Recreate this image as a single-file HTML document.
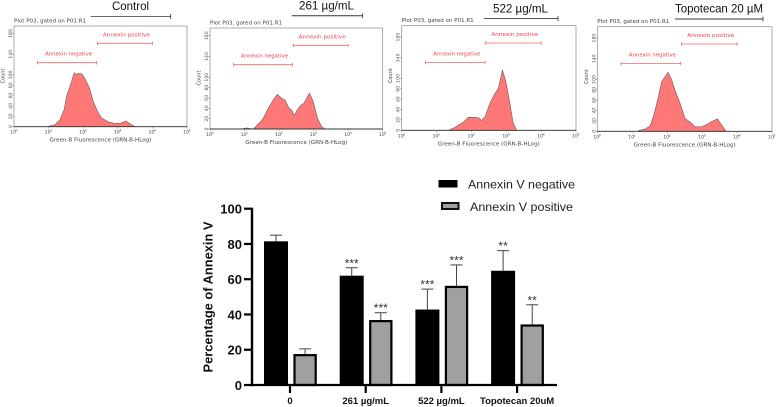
<!DOCTYPE html>
<html>
<head>
<meta charset="utf-8">
<style>
html,body{margin:0;padding:0;background:#fff;}
svg{display:block;font-family:"Liberation Sans",sans-serif;}
</style>
</head>
<body>
<svg id="figure" xmlns="http://www.w3.org/2000/svg" width="778" height="407" viewBox="0 0 778 407"></svg>
<script>
// Flow cytometry histograms: log10 fluorescence vs count
const histDecades1 = [0.99,1.19,1.33,1.45,1.52,1.62,1.74,1.81,1.86,1.96,2.05,2.18,2.29,2.41,2.53,2.73,2.92,3.06,3.24,3.33,3.5];
const histCounts1  = [0.6,4,13.5,33,59,78,104,100,103,102,93,75,49,30,17,9,6.4,6.4,11,6.4,0];
const histDecades2 = [0.9,1.06,1.2,1.26,1.45,1.54,1.69,1.83,1.95,2.08,2.17,2.29,2.36,2.44,2.53,2.63,2.72,2.88,2.99,3.11,3.23,3.33];
const histCounts2  = [0,2,0.5,0.6,13,20.6,40,56,67,59,56,40,37,26,37,46,50,69.5,53,21,4.5,0];
const histDecades3 = [1.37,1.53,1.67,1.79,1.91,2.06,2.2,2.29,2.39,2.53,2.65,2.77,2.89,2.99,3.11,3.2,3.3];
const histCounts3  = [0.6,5.8,11.6,16.7,25,25,24.5,19,26,52,68,81,116,94,49,13.5,0];
const histDecades4 = [1.17,1.37,1.51,1.62,1.75,1.84,1.94,2.03,2.13,2.22,2.37,2.51,2.7,2.8,2.99,3.15,3.27,3.44,3.56,3.68];
const histCounts4  = [1.3,4.5,10,31.5,67,96,105.5,114,99,80,54,25,15.4,8.4,9,13.5,18.7,24,12,0.6];
const histTitles = ["Control","261 µg/mL","522 µg/mL","Topotecan 20 µM"];
const histYTicks = [0,20,40,60,80,100,140,180];
const histXTicks = [0,1,2,3,4,5];
const negGate = [0.68,2.39];
const posGate = [2.41,4.0];

// Bar chart
const categories = ["0","261 µg/mL","522 µg/mL","Topotecan 20uM"];
const negativeValues = [81.5,62,42.8,64.8];
const negativeErrors = [3.5,4.5,11.6,11.4];
const positiveValues = [17.5,36.8,56.2,34.3];
const positiveErrors = [3,4.2,11.9,11.2];
const negativeStars = ["","***","***","**"];
const positiveStars = ["","***","***","**"];
const barYTicks = [0,20,40,60,80,100];

const svg = document.getElementById('figure');
const NS = 'http://www.w3.org/2000/svg';
function mk(tag, attrs, parent, text){
  const el = document.createElementNS(NS, tag);
  for (const k in attrs) el.setAttribute(k, attrs[k]);
  if (text !== undefined) el.textContent = text;
  (parent || svg).appendChild(el);
  return el;
}

function drawHistogram(idx, decades, counts, box, titleBox){
  const g = mk('g', {});
  
  
  const sx = d => box.x + (box.w / 5) * d;
  const sy = c => box.base - 0.518 * c;
  const FONT = '"DejaVu Sans",sans-serif';

  const frame = mk('rect', {x:box.x, y:box.top, width:box.w, height:box.base-box.top, fill:'#fff', stroke:'#8a8a8a', 'stroke-width':0.7}, g);
  
  

  const plotTitle = mk('text', {x:box.x, y:box.top-3.5, 'font-size':4.8, 'font-family':FONT, fill:'#444', textLength:72, lengthAdjust:'spacingAndGlyphs'}, g, 'Plot P03, gated on P01.R1');
  
  

  let pts = sx(decades[0]) + ',' + sy(0) + ' ';
  decades.forEach((d, i) => { pts += sx(d) + ',' + sy(counts[i]) + ' '; });
  pts += sx(decades[decades.length-1]) + ',' + sy(0);
  const hist = mk('polygon', {points:pts, fill:'#ff7878', stroke:'#6e5a5a', 'stroke-width':0.6}, g);
  
  

  const base = mk('line', {x1:box.x, x2:box.x+box.w, y1:box.base, y2:box.base, stroke:'#333', 'stroke-width':0.9}, g);
  
  

  histYTicks.forEach(t => {
    const tick = mk('line', {x1:box.x-2, x2:box.x, y1:sy(t), y2:sy(t), stroke:'#777', 'stroke-width':0.5}, g);
    
    
    const lx = box.x - 2;
    const lab = mk('text', {x:lx, y:sy(t), 'font-size':4.6, 'font-family':FONT, fill:'#555', 'text-anchor':'middle', transform:'rotate(-90 '+lx+' '+sy(t)+')'}, g, String(t));
    
    
  });

  histXTicks.forEach(t => {
    const tick = mk('line', {x1:sx(t), x2:sx(t), y1:box.base, y2:box.base+2, stroke:'#777', 'stroke-width':0.5}, g);
    
    
    const lab = mk('text', {x:sx(t)-1, y:box.base+7, 'font-size':4.6, 'font-family':FONT, fill:'#444', 'text-anchor':'middle'}, g, '10');
    
    
    const sup = mk('text', {x:sx(t)+2.5, y:box.base+5, 'font-size':3.2, 'font-family':FONT, fill:'#444', 'text-anchor':'middle'}, g, String(t));
    
    
  });

  const xt = mk('text', {x:box.x+box.w/2, y:box.base+15, 'font-size':4.8, 'font-family':FONT, fill:'#444', 'text-anchor':'middle', textLength:102, lengthAdjust:'spacingAndGlyphs'}, g, 'Green-B Fluorescence (GRN-B-HLog)');
  
  
  const ylx = box.x - 9.5, yly = box.top + 50;
  const yt = mk('text', {x:ylx, y:yly, 'font-size':5, 'font-family':FONT, fill:'#444', 'text-anchor':'middle', transform:'rotate(-90 '+ylx+' '+yly+')'}, g, 'Count');
  
  

  const gates = [
    {range:negGate, y:box.top+36.7, label:'Annexin negative', name:'annexin-negative-gate'},
    {range:posGate, y:box.top+17.3, label:'Annexin positive', name:'annexin-positive-gate'}
  ];
  gates.forEach(o => {
    const a = sx(o.range[0]), b = sx(o.range[1]);
    const gg = mk('g', {stroke:'#f06a6a', 'stroke-width':0.8}, g);
    
    
    mk('line', {x1:a, x2:b, y1:o.y, y2:o.y}, gg);
    mk('line', {x1:a, x2:a, y1:o.y-1.8, y2:o.y+1.8}, gg);
    mk('line', {x1:b, x2:b, y1:o.y-1.8, y2:o.y+1.8}, gg);
    const lab = mk('text', {x:(a+b)/2+1.5, y:o.y-7, 'font-size':4.8, 'font-family':FONT, fill:'#f0404f', stroke:'none', 'text-anchor':'middle', textLength:47, lengthAdjust:'spacingAndGlyphs'}, g, o.label);
    
    
  });

  const tt = mk('text', {x:titleBox.cx, y:titleBox.ty, 'font-size':titleBox.fs, fill:'#111', 'text-anchor':'middle', textLength:titleBox.tw, lengthAdjust:'spacingAndGlyphs'}, g, histTitles[idx]);
  
  
  const rule = mk('line', {x1:titleBox.x1, x2:titleBox.x2, y1:titleBox.y, y2:titleBox.y, stroke:titleBox.color, 'stroke-width':1}, g);
  
  
  const cap = mk('line', {x1:titleBox.x2, x2:titleBox.x2, y1:titleBox.y-2.5, y2:titleBox.y+2.5, stroke:'#333', 'stroke-width':0.8}, g);
  
  
}

drawHistogram(0, histDecades1, histCounts1, {x:14,y:0,w:173,top:26,base:126.7}, {cx:130.5,ty:10,fs:12,tw:37,x1:90.7,x2:170.7,y:16.5,color:'#666'});
drawHistogram(1, histDecades2, histCounts2, {x:210,y:0,w:172.7,top:28,base:129}, {cx:326.5,ty:9.5,fs:12,tw:55,x1:291.7,x2:362.7,y:15.7,color:'#333'});
drawHistogram(2, histDecades3, histCounts3, {x:401.7,y:0,w:174.3,top:25.7,base:130.3}, {cx:520.5,ty:12.5,fs:12,tw:55,x1:484,x2:558,y:18.5,color:'#555'});
drawHistogram(3, histDecades4, histCounts4, {x:597.3,y:0,w:174.7,top:26.7,base:131.3}, {cx:719,ty:12.5,fs:12,tw:88,x1:675,x2:763,y:19,color:'#333'});

// ---- bar chart ----
const barG = mk('g', {});


const Y0 = 385, PXPER = 1.763, AX = 252;
const yScale = v => Y0 - v * PXPER;
const xScale = i => 290 + i * 75.7;

function drawBar(i, value, err, star, isNeg){
  const left = xScale(i) + (isNeg ? -26 : 3.5);
  const w = isNeg ? 24 : 23.2;
  const cx = left + w / 2;
  const eb = mk('g', {stroke:'#444', 'stroke-width':1}, barG);
  
  
  mk('line', {x1:cx, x2:cx, y1:yScale(value), y2:yScale(value+err)}, eb);
  mk('line', {x1:cx-6, x2:cx+6, y1:yScale(value+err), y2:yScale(value+err)}, eb);
  const bar = isNeg
    ? mk('rect', {x:left, y:yScale(value), width:w, height:Y0-yScale(value), fill:'#000'}, barG)
    : mk('rect', {x:left+1, y:yScale(value)+1, width:w-2, height:Y0-yScale(value)-1, fill:'#a0a0a0', stroke:'#000', 'stroke-width':2.2}, barG);
  
  
  if (star) {
    const st = mk('text', {x:cx, y:yScale(value+err)-0.5, 'font-size':12, fill:'#333', 'text-anchor':'middle'}, barG, star);
    
    
  }
}
categories.forEach((c, i) => {
  drawBar(i, negativeValues[i], negativeErrors[i], negativeStars[i], true);
  drawBar(i, positiveValues[i], positiveErrors[i], positiveStars[i], false);
  const tick = mk('line', {x1:xScale(i), x2:xScale(i), y1:Y0, y2:Y0+8, stroke:'#000', 'stroke-width':2.2}, barG);
  
  
  const lab = mk('text', {x:xScale(i), y:404, 'font-size':9.5, 'font-weight':'bold', fill:'#111', 'text-anchor':'middle'}, barG, c);
  
  
});
const yAxis = mk('line', {x1:AX, x2:AX, y1:yScale(100)-1, y2:Y0+1.2, stroke:'#000', 'stroke-width':2.4}, barG);


const xAxis = mk('line', {x1:AX, x2:557, y1:Y0, y2:Y0, stroke:'#000', 'stroke-width':2.2}, barG);


barYTicks.forEach(t => {
  const tick = mk('line', {x1:244, x2:AX, y1:yScale(t), y2:yScale(t), stroke:'#000', 'stroke-width':2.2}, barG);
  
  
  const lab = mk('text', {x:242, y:yScale(t)+4.8, 'font-size':13, 'font-weight':'bold', fill:'#111', 'text-anchor':'end'}, barG, String(t));
  
  
});
const yTitle = mk('text', {x:212.5, y:297, 'font-size':13, 'font-weight':'bold', fill:'#111', 'text-anchor':'middle', transform:'rotate(-90 212.5 297)', textLength:151, lengthAdjust:'spacingAndGlyphs'}, barG, 'Percentage of Annexin V');



const leg1 = mk('g', {}, barG);


mk('rect', {x:438.5, y:180, width:19, height:7.5, fill:'#000'}, leg1);
mk('text', {x:468, y:188.5, 'font-size':12, fill:'#222', textLength:107, lengthAdjust:'spacingAndGlyphs'}, leg1, 'Annexin V negative');
const leg2 = mk('g', {}, barG);


mk('rect', {x:442, y:203, width:16.5, height:6, fill:'#a0a0a0', stroke:'#111', 'stroke-width':2}, leg2);
mk('text', {x:470, y:211, 'font-size':12, fill:'#222', textLength:103, lengthAdjust:'spacingAndGlyphs'}, leg2, 'Annexin V positive');
</script>
</body>
</html>
